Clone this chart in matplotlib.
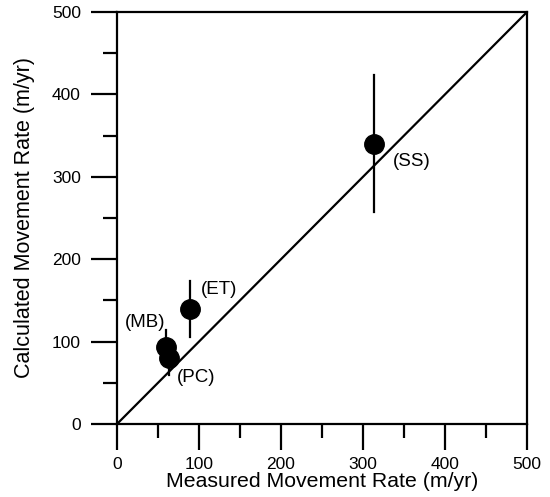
import matplotlib
matplotlib.use("Agg")
import matplotlib.pyplot as plt
from matplotlib.ticker import MultipleLocator

plt.rcParams['font.family'] = ['Liberation Sans', 'DejaVu Sans']

sites = ["SS", "ET", "MB", "PC"]
measured = [313, 89, 60, 64]
calculated = [340, 140, 93, 80]
err_low = [257, 105, 80, 60]
err_high = [423, 174, 114, 95]
label_x = [359, 124, 34, 97]
label_y = [318, 163, 123, 56]

fig = plt.figure(figsize=(5.5, 4.97), dpi=100)
ax = fig.add_axes([117/550, 1-424/497, 410/550, 412/497])

ax.plot([0, 500], [0, 500], color='black', lw=1.6, zorder=2)
for m, c, lo, hi in zip(measured, calculated, err_low, err_high):
    ax.plot([m, m], [lo, hi], color='black', lw=1.6, zorder=3)
ax.plot(measured, calculated, 'o', color='black', ms=14, zorder=4, linestyle='none')
for s, lx, ly in zip(sites, label_x, label_y):
    ax.text(lx, ly, f"({s})", ha='center', va='center', fontsize=13.5)

ax.set_xlim(0, 500)
ax.set_ylim(0, 500)
ax.xaxis.set_major_locator(MultipleLocator(100))
ax.xaxis.set_minor_locator(MultipleLocator(50))
ax.yaxis.set_major_locator(MultipleLocator(100))
ax.yaxis.set_minor_locator(MultipleLocator(50))
ax.tick_params(which='major', direction='out', length=19, width=1.6, labelsize=12.5, pad=5)
ax.tick_params(which='minor', direction='out', length=10, width=1.6)
ax.tick_params(axis='y', which='major', pad=7)
for sp in ax.spines.values():
    sp.set_linewidth(1.6)
ax.set_xlabel("Measured Movement Rate (m/yr)", fontsize=15.3, labelpad=0)
ax.set_ylabel("Calculated Movement Rate (m/yr)", fontsize=15.5, labelpad=12)

fig.savefig("out.png", dpi=100)
